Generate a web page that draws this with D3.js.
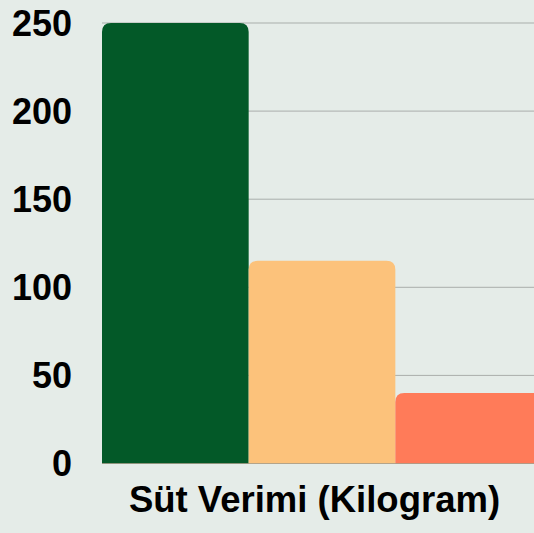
<!DOCTYPE html>
<html>
<head>
<meta charset="utf-8">
<script src="https://cdn.jsdelivr.net/npm/d3@7"></script>
<style>
  body { margin: 0; background: #e5ece8; }
  svg { display: block; }
</style>
</head>
<body>
<svg width="534" height="533"></svg>
<script>
// data
var categories = ['A', 'B', 'C'];
var values = [250, 115, 40];
var colors = ['#035928', '#fcc27b', '#ff7b59'];
var yTicks = [0, 50, 100, 150, 200, 250];
var xTitle = 'Süt Verimi (Kilogram)';

var svg = d3.select('svg'),
  width = +svg.attr('width'),
  height = +svg.attr('height');

var plotLeft = 102, plotRight = 542, plotTop = 23, plotBottom = 463.5;

var x = d3.scaleBand().domain(categories).range([plotLeft, plotRight]).padding(0);
var y = d3.scaleLinear().domain([0, 250]).range([plotBottom, plotTop]);

svg.append('rect')
  .attr('width', width)
  .attr('height', height)
  .attr('fill', '#e5ece8');

// grid lines
svg.append('g')
  .selectAll('line')
  .data(yTicks.slice(1))
  .enter()
  .append('line')
  .attr('x1', plotLeft)
  .attr('x2', width)
  .attr('y1', function (d) { return y(d); })
  .attr('y2', function (d) { return y(d); })
  .attr('stroke', '#a9aeab')
  .attr('stroke-width', 1);

// bars with rounded top corners
function barPath(x0, x1, y0, y1, r) {
  r = Math.min(r, (y1 - y0), (x1 - x0) / 2);
  return 'M' + x0 + ',' + y1 +
    'V' + (y0 + r) +
    'Q' + x0 + ',' + y0 + ' ' + (x0 + r) + ',' + y0 +
    'H' + (x1 - r) +
    'Q' + x1 + ',' + y0 + ' ' + x1 + ',' + (y0 + r) +
    'V' + y1 + 'Z';
}

svg.append('g')
  .selectAll('path')
  .data(values)
  .enter()
  .append('path')
  .attr('d', function (d, i) {
    var x0 = x(categories[i]);
    return barPath(x0, x0 + x.bandwidth(), y(d), y(0), 9);
  })
  .attr('fill', function (d, i) { return colors[i]; });

// baseline
svg.append('line')
  .attr('x1', plotLeft)
  .attr('x2', width)
  .attr('y1', y(0))
  .attr('y2', y(0))
  .attr('stroke', '#9a8f78')
  .attr('stroke-opacity', 0.7)
  .attr('stroke-width', 1);

// y axis labels
svg.append('g')
  .selectAll('text')
  .data(yTicks)
  .enter()
  .append('text')
  .attr('x', 72)
  .attr('y', function (d) { return y(d); })
  .attr('text-anchor', 'end')
  .attr('dominant-baseline', 'central')
  .style('font-family', 'Liberation Sans, Arial, sans-serif')
  .style('font-weight', 'bold')
  .style('font-size', '36px')
  .attr('fill', '#000')
  .text(function (d) { return d; });

// x title
svg.append('text')
  .attr('x', 314.5)
  .attr('y', 512)
  .attr('text-anchor', 'middle')
  .style('font-family', 'Liberation Sans, Arial, sans-serif')
  .style('font-weight', 'bold')
  .style('font-size', '36.5px')
  .attr('fill', '#000')
  .text(xTitle);
</script>
</body>
</html>
